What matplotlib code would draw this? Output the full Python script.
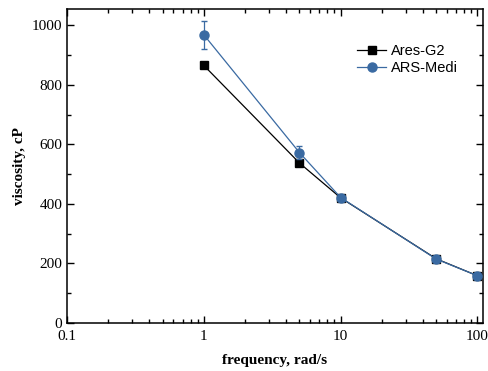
import matplotlib.pyplot as plt
from matplotlib.lines import Line2D
from matplotlib.ticker import LogLocator, MultipleLocator, FixedLocator, NullFormatter

freq = [1, 5, 10, 50, 100]
ares_g2 = [865, 537, 420, 215, 158]
ares_g2_err = [0, 0, 8, 4, 6]
ars_medi = [968, 572, 421, 214, 158]
ars_medi_err = [48, 22, 6, 5, 6]

xticks = [0.1, 1, 10, 100]
xticklabels = ["0.1", "1", "10", "100"]
yticks = [0, 200, 400, 600, 800, 1000]

serif = ["Liberation Serif", "DejaVu Serif"]
sans = ["Liberation Sans", "DejaVu Sans"]
blue = "#3a6aa2"

fig = plt.figure(figsize=(4.89, 3.71), dpi=100)
ax = fig.add_axes([0.137, 0.130, 0.851, 0.846])

ax.errorbar(freq, ares_g2, yerr=ares_g2_err, color="black", marker="s", ms=5.5,
            lw=0.9, capsize=2.5, elinewidth=0.9, zorder=3)
ax.errorbar(freq, ars_medi, yerr=ars_medi_err, color=blue, marker="o", ms=6.5,
            lw=0.9, capsize=2.5, elinewidth=0.9, zorder=4)

ax.set_xscale("log")
ax.set_xlim(0.1, 110)
ax.set_ylim(0, 1055)
ax.xaxis.set_major_locator(FixedLocator(xticks))
ax.set_xticklabels(xticklabels)
ax.xaxis.set_minor_locator(LogLocator(base=10, subs=range(2, 10)))
ax.xaxis.set_minor_formatter(NullFormatter())
ax.set_yticks(yticks)
ax.yaxis.set_minor_locator(MultipleLocator(100))

ax.tick_params(which="both", direction="in", top=True, right=True, width=1)
ax.tick_params(which="major", length=5)
ax.tick_params(which="minor", length=3)
ax.tick_params(axis="x", pad=5)
for lab in ax.get_xticklabels() + ax.get_yticklabels():
    lab.set_family(serif)
    lab.set_fontsize(11)
for s in ax.spines.values():
    s.set_linewidth(1.1)

ax.set_xlabel("frequency, rad/s", family=serif, fontweight="bold", fontsize=11, labelpad=8)
ax.set_ylabel("viscosity, cP", family=serif, fontweight="bold", fontsize=11, labelpad=4)

handles = [
    Line2D([], [], color="black", marker="s", ms=5.5, lw=0.9),
    Line2D([], [], color=blue, marker="o", ms=6.5, lw=0.9),
]
ax.legend(handles, ["Ares-G2", "ARS-Medi"], loc="upper right",
          bbox_to_anchor=(0.97, 0.93), frameon=False,
          prop={"family": sans, "size": 10.5}, handlelength=2.0,
          handletextpad=0.3, labelspacing=0.2)

fig.savefig("out.png", dpi=100)
